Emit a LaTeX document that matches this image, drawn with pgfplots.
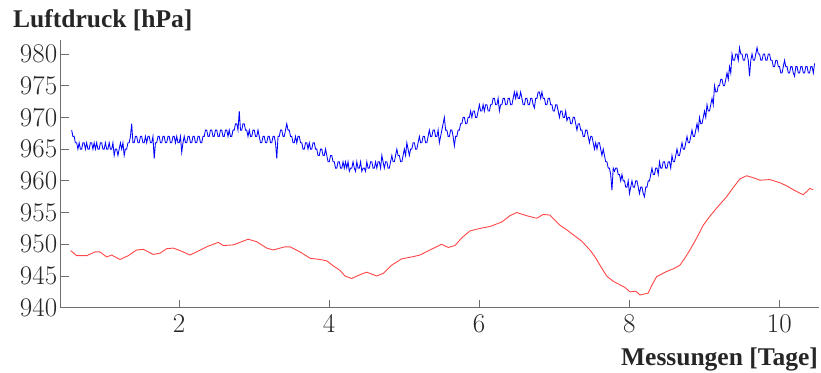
\documentclass[border=0pt]{standalone}
\usepackage{fontspec}
\setmainfont{Liberation Serif}
\newfontfamily\tickfont{Latin Modern Roman}
\usepackage{pgfplots}
\usepackage{pgfplotstable}
\pgfplotsset{compat=1.18}
\definecolor{axgray}{RGB}{110,110,110}
\definecolor{lineblue}{RGB}{0,0,255}
\definecolor{linered}{RGB}{255,70,70}

% Luftdruck oben (Messwerte in regelmaessigen Abstaenden ab Tag 0.57, 60 pro Tag)
\pgfplotstableread[row sep=\\]{
y\\
968\\967\\967\\966\\966\\965\\966\\965\\965\\966\\966\\965\\966\\965\\965\\966\\966\\965\\966\\965\\
966\\965\\965\\966\\966\\965\\965\\966\\965\\965\\966\\965\\965\\966\\964\\965\\965\\964\\965\\966\\
965\\966\\964\\965\\965\\966\\966\\967\\969\\966\\966\\967\\967\\966\\966\\967\\967\\966\\966\\967\\
966\\967\\967\\966\\966\\967\\963.5\\966\\966\\967\\967\\966\\966\\967\\967\\966\\966\\967\\967\\966\\
966\\967\\967\\966\\967\\966\\966\\967\\964.5\\966\\967\\966\\966\\967\\967\\966\\966\\967\\967\\966\\
966\\967\\967\\966\\966\\967\\967\\968\\968\\967\\967\\968\\968\\967\\967\\968\\968\\967\\967\\968\\
968\\967\\967\\968\\968\\967\\968\\967\\967\\968\\968\\969\\969\\968\\971\\968\\968\\969\\969\\968\\
968\\967\\968\\967\\967\\968\\968\\967\\967\\968\\967\\966\\966\\967\\967\\966\\966\\967\\967\\966\\
966\\967\\967\\966\\963.5\\967\\967\\968\\968\\967\\967\\968\\969\\968\\968\\967\\967\\966\\966\\967\\
966\\967\\967\\966\\966\\965\\965\\966\\966\\965\\966\\965\\965\\966\\966\\965\\965\\964\\964\\965\\
965\\964\\964\\965\\964\\963\\963\\964\\964\\963\\963\\962\\962\\963\\963\\962\\962\\963\\962\\963\\
962\\963\\961.5\\962\\962\\963\\962\\961.5\\963\\962\\962\\963\\961.5\\962\\962\\961.5\\963\\962\\962\\963\\
963\\962\\962\\963\\962\\963\\963\\962\\964\\963\\962\\963\\963\\962\\962\\963\\964\\963\\963\\964\\
965\\964\\964\\963\\963\\964\\965\\964\\966\\965\\964\\965\\965\\966\\966\\965\\965\\966\\967\\966\\
966\\967\\967\\966\\966\\967\\968\\967\\967\\968\\968\\967\\967\\968\\966\\967\\968\\969\\970\\968\\
968\\967\\967\\968\\968\\967\\965.5\\967\\967\\968\\968\\969\\969\\970\\970\\969\\969\\970\\970\\971\\
970\\971\\971\\970\\970\\971\\972\\971\\971\\972\\971\\972\\972\\971\\971\\972\\972\\973\\973\\972\\
972\\973\\971\\972\\972\\973\\973\\972\\972\\973\\973\\972\\972\\973\\974\\973\\974\\973\\973\\974\\
973\\972\\972\\973\\973\\972\\972\\973\\973\\972\\971.5\\973\\973\\974\\974\\973\\974\\973\\973\\972\\
972\\973\\973\\972\\972\\971\\971\\972\\972\\971\\970\\971\\971\\970\\970\\971\\969.5\\970\\970\\969\\
969\\970\\970\\969\\968\\969\\969\\968\\968\\967\\967\\968\\968\\967\\966\\967\\967\\966\\965\\966\\
965\\966\\966\\965\\964\\965\\964\\963\\963\\962\\962\\961\\958.5\\962\\961.5\\962\\962\\961\\961\\960\\
961\\960\\960\\959\\959\\960\\958\\959\\960\\959\\959\\960\\960\\959\\958\\959\\959\\958\\957.5\\959\\
959\\960\\960\\961\\962\\961\\961\\962\\962\\961\\963\\962\\962\\963\\963\\962\\962\\963\\963\\962\\
964\\963\\963\\964\\965\\964\\964\\965\\966\\965\\965\\966\\967\\966\\966\\967\\968\\967\\967\\968\\
969\\968\\970\\969\\969\\970\\971\\970\\972\\971\\971\\972\\973\\972\\975\\974\\974\\975\\975\\976\\
976\\975\\975\\976\\977\\976\\978\\977\\980\\979\\979\\980\\980\\979\\981\\980\\980\\979\\979\\980\\
980\\979\\976.5\\979\\980\\979\\979\\980\\981\\980\\980\\979\\979\\980\\980\\979\\979\\980\\980\\979\\
979\\978\\978\\979\\979\\978\\978\\977\\977\\978\\979\\978\\978\\977\\977\\978\\978\\977\\976.5\\978\\
978\\977\\977\\978\\978\\977\\977\\978\\978\\977\\977\\978\\978\\977\\978.5\\
}\bluedata

% Luftdruck unten
\pgfplotstableread{
x y
0.557 949.0
0.637 948.2
0.770 948.2
0.881 948.8
0.947 948.8
1.037 948.0
1.103 948.3
1.214 947.6
1.324 948.2
1.436 949.1
1.524 949.2
1.658 948.4
1.747 948.6
1.836 949.3
1.924 949.4
2.036 948.9
2.147 948.3
2.236 948.8
2.369 949.6
2.524 950.3
2.590 949.8
2.724 949.9
2.813 950.3
2.923 950.8
3.035 950.4
3.169 949.4
3.256 949.1
3.412 949.6
3.479 949.6
3.612 948.8
3.746 947.8
3.879 947.6
3.968 947.4
4.056 946.6
4.145 945.9
4.212 945.0
4.301 944.6
4.412 945.2
4.501 945.6
4.634 945.0
4.722 945.4
4.834 946.7
4.967 947.7
5.101 948.0
5.211 948.3
5.345 949.1
5.500 950.0
5.588 949.5
5.678 949.8
5.767 951.0
5.877 952.1
6.011 952.5
6.144 952.8
6.300 953.5
6.410 954.5
6.500 955.0
6.633 954.5
6.766 954.1
6.854 954.7
6.943 954.6
7.077 953.0
7.165 952.3
7.254 951.5
7.366 950.5
7.476 949.1
7.545 948.0
7.610 946.7
7.699 945.0
7.783 944.2
7.876 943.6
7.943 943.2
8.010 942.5
8.090 942.6
8.143 942.0
8.253 942.3
8.300 943.5
8.365 944.9
8.498 945.7
8.600 946.2
8.676 946.7
8.740 947.8
8.809 949.1
8.900 951.0
8.986 953.0
9.080 954.5
9.165 955.7
9.298 957.5
9.390 959.0
9.475 960.3
9.564 960.8
9.650 960.5
9.742 960.1
9.875 960.2
10.008 959.7
10.100 959.2
10.185 958.6
10.318 957.8
10.408 958.8
10.452 958.6
}\reddata

\begin{document}
\begin{tikzpicture}
\useasboundingbox (-60.7pt,-64.3pt) rectangle (760.3pt,307.7pt);
\begin{axis}[
  at={(0,0)}, anchor=south west,
  scale only axis,
  width=758.6pt, height=267.7pt,
  xmin=0.424, xmax=10.533,
  ymin=940, ymax=982.2,
  axis lines*=left,
  axis line style={axgray, line width=0.9pt},
  tick style={axgray, line width=0.9pt},
  major tick length=8pt,
  tick align=inside,
  xtick={2,4,6,8,10},
  ytick={940,945,...,980},
  /pgf/number format/assume math mode=true,
  ticklabel style={font=\tickfont\fontsize{27}{27}\selectfont, text=black!85},
  xticklabel style={yshift=-3pt},
  scaled ticks=false,
  /pgf/number format/1000 sep={},
  clip=false,
]
\addplot[linered, line width=0.9pt] table[x=x, y=y] {\reddata};
\addplot[lineblue, line width=0.85pt] table[x expr=0.57+\coordindex/60, y=y] {\bluedata};
\end{axis}
\node[anchor=base west, inner sep=0pt, font=\fontsize{25.5}{26}\selectfont\bfseries, text=black!85] at (-47.7pt,279.7pt) {Luftdruck [hPa]};
\node[anchor=base east, inner sep=0pt, font=\fontsize{25.5}{26}\selectfont\bfseries, text=black!85] at (757.3pt,-57.3pt) {Messungen [Tage]};
\end{tikzpicture}
\end{document}
